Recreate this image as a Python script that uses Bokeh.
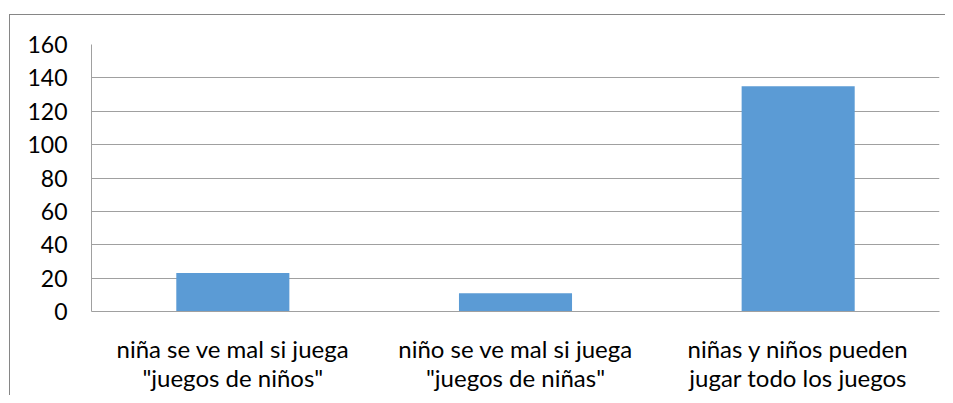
from bokeh.plotting import figure
from bokeh.models import ColumnDataSource, FactorRange, FixedTicker, Range1d
from bokeh.embed import file_html
from bokeh.resources import INLINE

categories = [
    'niña se ve mal si juega\n"juegos de niños"',
    'niño se ve mal si juega\n"juegos de niñas"',
    'niñas y niños pueden\njugar todo los juegos',
]
values = [23, 11, 135]
y_ticks = [0, 20, 40, 60, 80, 100, 120, 140, 160]

source = ColumnDataSource(data=dict(cat=categories, val=values))

p = figure(
    x_range=FactorRange(*categories, range_padding=0),
    y_range=Range1d(0, 160),
    frame_width=848, frame_height=267,
    min_border_left=81, min_border_top=29, min_border_right=6, min_border_bottom=84,
    output_backend="svg", toolbar_location=None,
)
p.styles = {"border-top": "1px solid #868686", "border-left": "1px solid #868686",
            "margin-top": "14px", "margin-left": "9px"}

p.vbar(x="cat", top="val", width=0.4, source=source, color="#5b9bd5", line_color=None)

font = "Lato"
p.yaxis.ticker = FixedTicker(ticks=y_ticks)
p.yaxis.major_tick_line_color = None
p.yaxis.minor_tick_line_color = None
p.yaxis.axis_line_color = "#a0a0a0"
p.yaxis.major_label_text_font = font
p.yaxis.major_label_text_font_size = "23px"
p.yaxis.major_label_text_color = "#000000"
p.yaxis.major_label_standoff = 18

p.xaxis.major_tick_line_color = None
p.xaxis.minor_tick_line_color = None
p.xaxis.axis_line_color = "#a0a0a0"
p.xaxis.major_label_text_font = font
p.xaxis.major_label_text_font_size = "24px"
p.xaxis.major_label_text_color = "#000000"
p.xaxis.major_label_standoff = 16
p.xaxis.major_label_text_line_height = 1.0

p.xgrid.grid_line_color = None
p.ygrid.grid_line_color = "#a0a0a0"
p.ygrid.grid_line_width = 1
p.outline_line_color = None
p.background_fill_color = "white"
p.border_fill_color = "white"

open("out.html", "w").write(file_html(p, INLINE))
